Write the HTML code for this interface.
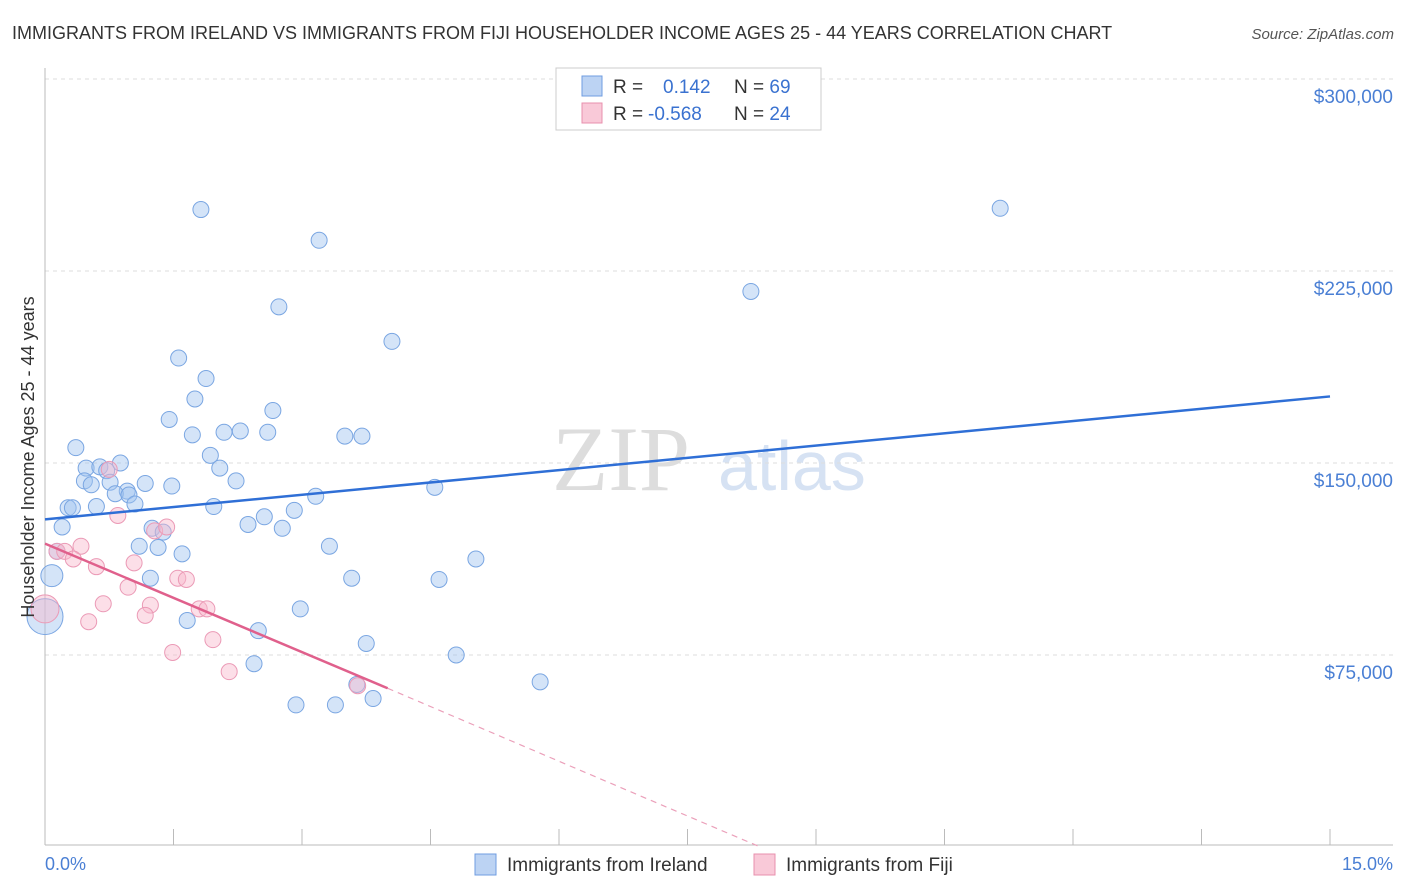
<!DOCTYPE html>
<html><head><meta charset="utf-8">
<style>
body{margin:0;background:#fff;font-family:"Liberation Sans",sans-serif;}
#wrap{position:relative;width:1406px;height:892px;overflow:hidden;}
</style></head>
<body>
<div id="wrap">
<svg id="svg" width="1406" height="892" xmlns="http://www.w3.org/2000/svg">
<text x="12" y="39" font-size="18" fill="#333">IMMIGRANTS FROM IRELAND VS IMMIGRANTS FROM FIJI HOUSEHOLDER INCOME AGES 25 - 44 YEARS CORRELATION CHART</text>
<text x="1394" y="39" font-size="15" fill="#555" font-style="italic" text-anchor="end">Source: ZipAtlas.com</text>
<text x="690" y="490" font-size="92" fill="#ddd" font-family="Liberation Serif,serif" text-anchor="end">ZIP</text>
<text x="718" y="490" font-size="70" fill="#d6e2f3">atlas</text>
<g id="grid"></g>
<g id="axes"></g>
<g id="pts"></g>
<g id="lines"></g>
<text transform="translate(34,457) rotate(-90)" font-size="18" fill="#333" text-anchor="middle">Householder Income Ages 25 - 44 years</text>
<text x="45" y="870" font-size="18" fill="#4a7fd4">0.0%</text>
<text x="1393" y="870" font-size="18" fill="#4a7fd4" text-anchor="end">15.0%</text>
<g>
<rect x="556" y="68" width="265" height="62" fill="#fff" stroke="#ccc"/>
<rect x="582" y="76" width="20" height="20" fill="#bcd3f3" stroke="#6f9de0"/>
<rect x="582" y="103" width="20" height="20" fill="#f9c9d8" stroke="#e890ae"/>
<text x="613" y="93" font-size="19" fill="#333">R = <tspan fill="#3a72d0" x="663">0.142</tspan><tspan x="734">N = </tspan><tspan fill="#3a72d0">69</tspan></text>
<text x="613" y="120" font-size="19" fill="#333">R = <tspan fill="#3a72d0" x="648">-0.568</tspan><tspan x="734">N = </tspan><tspan fill="#3a72d0">24</tspan></text>
</g>
<g>
<rect x="475" y="854" width="21" height="21" fill="#bcd3f3" stroke="#6f9de0"/>
<text x="507" y="871" font-size="19" fill="#333">Immigrants from Ireland</text>
<rect x="754" y="854" width="21" height="21" fill="#f9c9d8" stroke="#e890ae"/>
<text x="786" y="871" font-size="19" fill="#333">Immigrants from Fiji</text>
</g>
</svg>
</div>
<script>
const yTicks=[75000,150000,225000,300000];
const yTickLabels=["$75,000","$150,000","$225,000","$300,000"];
const irelandX=[1.82,3.2,11.15,8.24,2.73,4.05,1.56,1.88,1.75,2.66,1.45,2.28,2.6,1.72,2.09,3.5,3.7,0.36,1.93,2.04,0.88,0.48,0.64,0.72,0.46,2.23,0.54,0.76,0.96,1.48,1.17,0.82,0.98,4.55,3.16,0.27,0.32,0.6,1.05,1.97,2.56,2.91,0.2,1.25,1.38,2.37,2.77,0.14,1.1,1.32,1.6,3.32,5.03,0.08,1.23,3.58,4.6,2.98,1.66,2.49,3.75,4.8,2.44,5.78,3.64,3.83,2.93,3.39,0.0];
const irelandY=[249000,237000,249500,217000,211000,197500,191000,183000,175000,170500,167000,162500,162000,161000,162000,160500,160500,156000,153000,148000,150000,148000,148500,147000,143000,143000,141500,142500,139000,141000,142000,138000,137500,140500,137000,132500,132500,133000,134000,133000,129000,131500,125000,124500,123000,126000,124500,115500,117500,117000,114500,117500,112500,106000,105000,105000,104500,93000,88500,84500,79500,75000,71600,64500,63500,58000,55500,55500,90000];
const irelandR=[8,8,8,8,8,8,8,8,8,8,8,8,8,8,8,8,8,8,8,8,8,8,8,8,8,8,8,8,8,8,8,8,8,8,8,8,8,8,8,8,8,8,8,8,8,8,8,8,8,8,8,8,8,11,8,8,8,8,8,8,8,8,8,8,8,8,8,8,18];
const fijiX=[0.14,0.23,0.42,0.33,0.6,0.75,0.85,1.28,1.42,1.04,0.97,1.55,1.65,0.68,1.23,1.17,0.51,1.8,1.89,1.96,1.49,2.15,3.65,0.0];
const fijiY=[115500,115500,117500,112500,109500,147500,129500,123500,125000,111000,101500,105000,104500,95000,94500,90500,88000,93000,93000,81000,76000,68500,63000,93000];
const fijiR=[8,8,8,8,8,8,8,8,8,8,8,8,8,8,8,8,8,8,8,8,8,8,8,14];
const blueLine=[[0,128000],[15,176000]];
const pinkLine=[[0,118500],[4.0,62000]];
const pinkDash=[[4.0,62000],[8.35,0]];
function sx(v){return 45+v/15*1285;}
function sy(v){return 847-v/75000*192;}
const NS="http://www.w3.org/2000/svg";
function mk(p,t,a){const e=document.createElementNS(NS,t);for(const k in a)e.setAttribute(k,a[k]);p.appendChild(e);return e;}
const gridG=document.getElementById('grid'),axesG=document.getElementById('axes'),ptsG=document.getElementById('pts'),linesG=document.getElementById('lines');
yTicks.forEach((t,i)=>{
 const g=mk(gridG,'line',{x1:45,x2:1393,y1:sy(t),y2:sy(t),stroke:'#ddd','stroke-dasharray':'4,4'});
 
 
 const tx=mk(gridG,'text',{x:1393,y:sy(t)+24,'font-size':19,fill:'#4a7fd4','text-anchor':'end'});
 tx.textContent=yTickLabels[i];
 
 
});
const gridTop=mk(gridG,'line',{x1:45,x2:1393,y1:79,y2:79,stroke:'#ddd','stroke-dasharray':'4,4'});


const xa=mk(axesG,'line',{x1:45,x2:1393,y1:845,y2:845,stroke:'#bbb'});


const ya=mk(axesG,'line',{x1:45,x2:45,y1:68,y2:845,stroke:'#bbb'});


for(let i=0;i<=10;i++){
 const tk=mk(axesG,'line',{x1:sx(i*1.5),x2:sx(i*1.5),y1:829,y2:845,stroke:'#bbb'});
 
 
}
irelandX.forEach((x,i)=>{
 const c=mk(ptsG,'circle',{cx:sx(x),cy:sy(irelandY[i]),r:irelandR[i]||8,fill:'rgba(160,195,240,0.45)',stroke:'#7aa6e2','stroke-width':1});
 
 
});
fijiX.forEach((x,i)=>{
 const c=mk(ptsG,'circle',{cx:sx(x),cy:sy(fijiY[i]),r:fijiR[i]||8,fill:'rgba(248,185,205,0.45)',stroke:'#eb9ab6','stroke-width':1});
 
 
});
const bl=mk(linesG,'line',{x1:sx(blueLine[0][0]),y1:sy(blueLine[0][1]),x2:sx(blueLine[1][0]),y2:sy(blueLine[1][1]),stroke:'#2f6fd6','stroke-width':2.5});


const pl=mk(linesG,'line',{x1:sx(pinkLine[0][0]),y1:sy(pinkLine[0][1]),x2:sx(pinkLine[1][0]),y2:sy(pinkLine[1][1]),stroke:'#e0608c','stroke-width':2.5});


const pd=mk(linesG,'line',{x1:sx(pinkDash[0][0]),y1:sy(pinkDash[0][1]),x2:sx(pinkDash[1][0]),y2:sy(pinkDash[1][1]),stroke:'#eba0ba','stroke-width':1.2,'stroke-dasharray':'6,5'});


</script>
</body></html>
